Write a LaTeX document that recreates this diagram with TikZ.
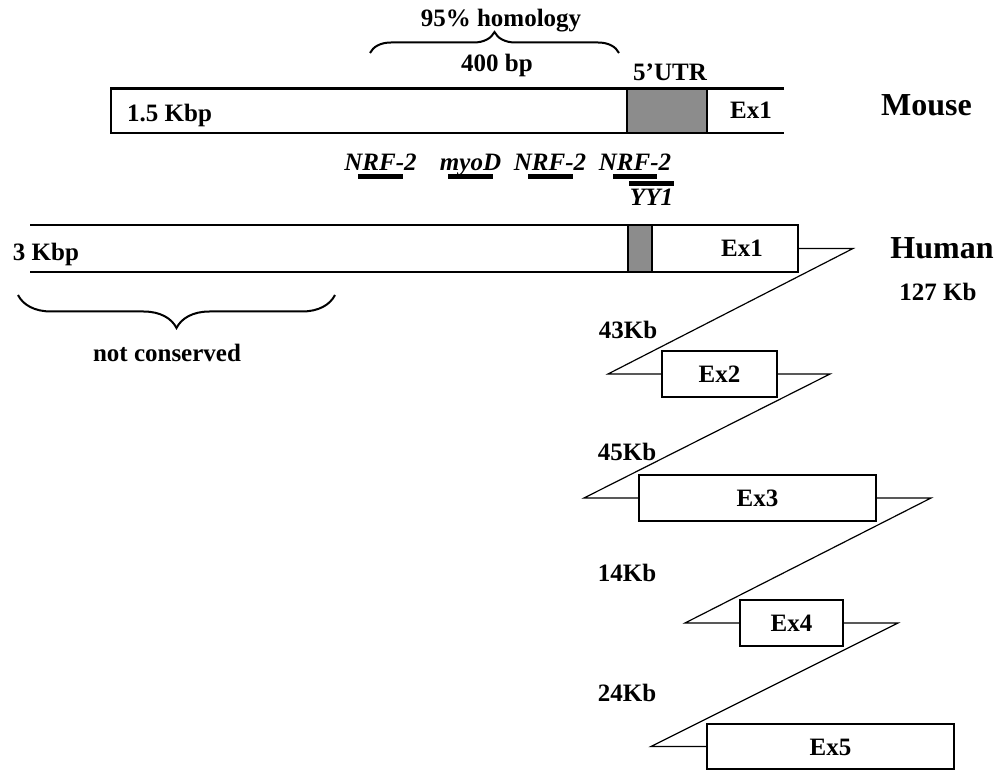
\documentclass[tikz,border=0pt]{standalone}
\usepackage{fontspec}
\setmainfont{Liberation Serif}
\usetikzlibrary{positioning,decorations.pathreplacing}
\begin{document}
\begin{tikzpicture}[
        x=1pt, y=-1pt,
        lbl/.style={font=\fontsize{25}{30}\selectfont\bfseries, inner sep=0pt, text height=17pt, text depth=0pt},
        motif/.style={lbl, font=\fontsize{25}{30}\selectfont\bfseries\itshape},
        title/.style={lbl, font=\fontsize{32}{38}\selectfont\bfseries, text height=21.5pt},
        gene/.style={line width=2.6pt},
        utr/.style={rectangle, draw, line width=2.6pt, fill=black!45, inner sep=0pt},
        exon/.style={lbl, rectangle, draw, line width=2.3pt, fill=white, minimum height=46pt},
        intron/.style={line width=1.2pt},
        bar/.style={rectangle, fill=black, minimum width=45pt, minimum height=5pt, inner sep=0pt},
        brc/.style={decorate, decoration={brace, amplitude=#1}, line width=2pt},
        brc/.default=21pt
    ]
        \useasboundingbox (0,0) rectangle (997,770);

        \draw[gene] (784,88.5) -| (111,133) -- (784,133);
        \node[utr, minimum width=80pt, minimum height=44.5pt] (mutr) at (667,110.75) {};
        \node[lbl, anchor=west] (mkbp) at (127,113) {1.5 Kbp};
        \node[lbl] (mex1) at (751,110) {Ex1};
        \node[lbl] (lutr) at (670,72) {5'UTR};
        \node[title] (mouse) at (926.5,105) {Mouse};

        \draw[brc] (370,53) -- (619,53);
        \node[lbl] (homol) at (501,18) {95\% homology};
        \node[lbl] (bp400) at (497,63) {400 bp};

        \node[bar] (nrf1) at (380.5,177) {};
        \node[bar] (myod) at (470.5,177) {};
        \node[bar] (nrf2) at (550,177) {};
        \node[bar, minimum width=44pt] (nrf3) at (635,177) {};
        \node[bar] (yy1) at (651.5,184) {};
        \node[motif, above=4pt of nrf1] (lnrf1) {NRF-2};
        \node[motif, above=4pt of myod] (lmyod) {myoD};
        \node[motif, above=4pt of nrf2] (lnrf2) {NRF-2};
        \node[motif, above=4pt of nrf3] (lnrf3) {NRF-2};
        \node[motif, below=2pt of yy1] (lyy1) {YY1};

        \draw[gene] (30,225) -| (798,272) -- (30,272);
        \node[utr, minimum width=24pt, minimum height=47pt] (hutr) at (640,248.5) {};
        \node[lbl] (hkbp) at (46,252) {3 Kbp};
        \node[lbl] (hex1l) at (742,248) {Ex1};
        \node[title] (human) at (942,248) {Human};
        \node[lbl] (hsize) at (938,292) {127 Kb};
        \coordinate (hex1) at (798,248.5);

        \draw[brc=33pt] (335,295) -- (18,295);
        \node[lbl] (notcons) at (167,353) {not conserved};

        \node[exon, minimum width=115pt] (ex2) at (719.5,374) {Ex2};
        \node[exon, minimum width=237pt] (ex3) at (757.5,498) {Ex3};
        \node[exon, minimum width=103pt] (ex4) at (791.5,623) {Ex4};
        \node[exon, minimum width=247pt, minimum height=45pt] (ex5) at (830.5,746.5) {Ex5};

        \coordinate (t1a) at (853,248.5);
        \coordinate (t1b) at (608,374);
        \coordinate (t2a) at (830,374);
        \coordinate (t2b) at (584,498);
        \coordinate (t3a) at (931,498);
        \coordinate (t3b) at (685,623);
        \coordinate (t4a) at (898,623);
        \coordinate (t4b) at (651,746.5);

        \draw[intron] (hex1) -- (t1a) -- (t1b) -- (ex2);
        \draw[intron] (ex2) -- (t2a) -- (t2b) -- (ex3);
        \draw[intron] (ex3) -- (t3a) -- (t3b) -- (ex4);
        \draw[intron] (ex4) -- (t4a) -- (t4b) -- (ex5);

        \node[lbl] (i1) at (628,330) {43Kb};
        \node[lbl] (i2) at (627,452) {45Kb};
        \node[lbl] (i3) at (627,573) {14Kb};
        \node[lbl] (i4) at (627,693) {24Kb};
    \end{tikzpicture}
\end{document}
